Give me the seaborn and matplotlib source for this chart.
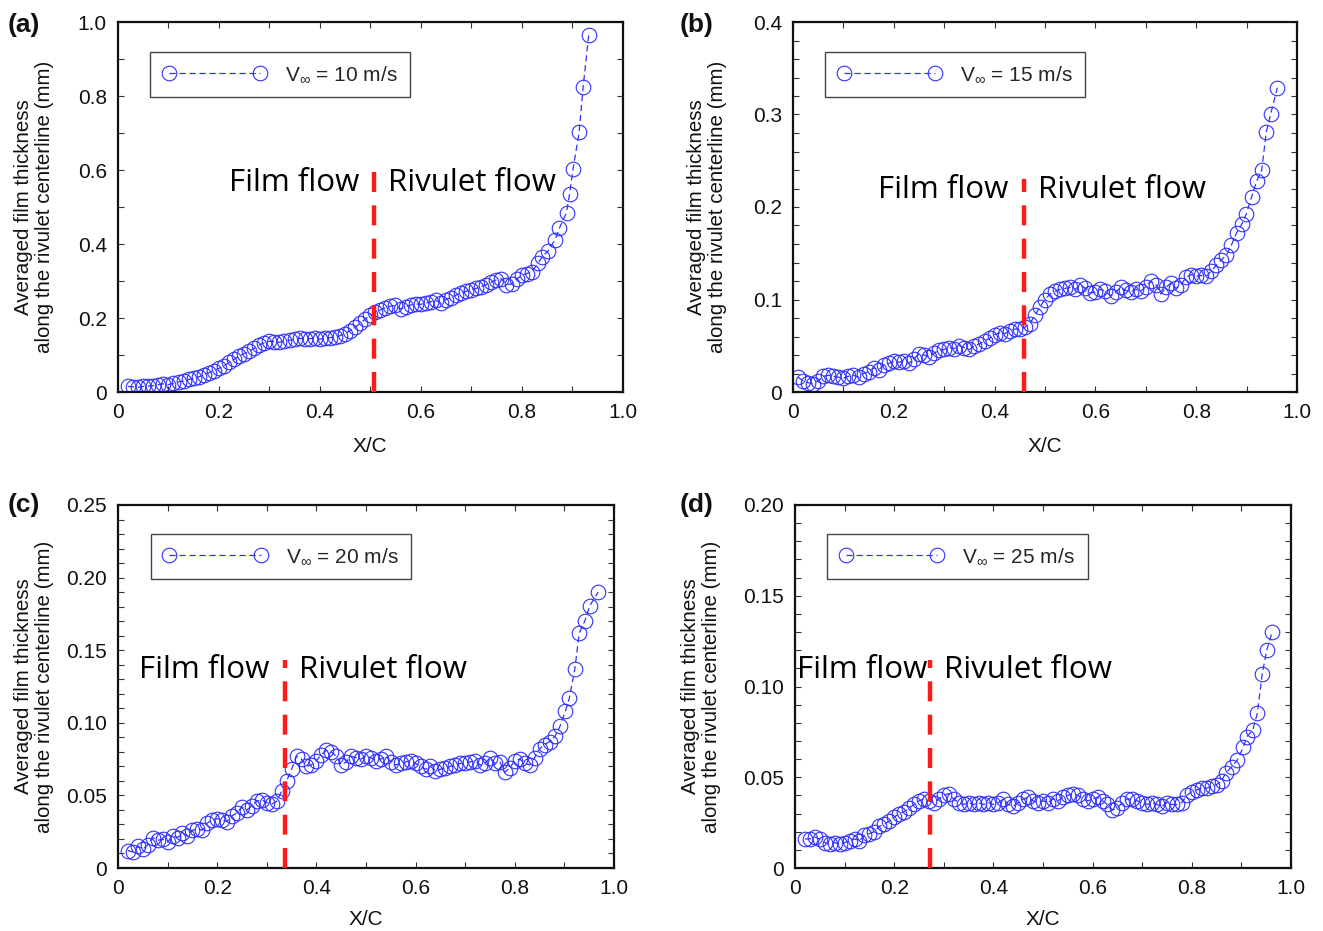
import numpy as np
import pandas as pd
import matplotlib
matplotlib.use("Agg")
import matplotlib.pyplot as plt
from matplotlib.ticker import MultipleLocator, FixedLocator
import seaborn as sns

# ---------------- data ----------------
x_a = [0.02, 0.03, 0.04, 0.05, 0.06, 0.07, 0.08, 0.09, 0.10, 0.11, 0.12, 0.13, 0.14, 0.15,
       0.16, 0.17, 0.18, 0.19, 0.20, 0.21, 0.22, 0.23, 0.24, 0.25, 0.26, 0.27, 0.28, 0.29,
       0.30, 0.31, 0.32, 0.33, 0.34, 0.35, 0.36, 0.37, 0.38, 0.39, 0.40, 0.41, 0.42, 0.43,
       0.44, 0.45, 0.46, 0.47, 0.48, 0.49, 0.50, 0.51, 0.52, 0.53, 0.54, 0.55, 0.56, 0.57,
       0.58, 0.59, 0.60, 0.61, 0.62, 0.63, 0.64, 0.65, 0.66, 0.67, 0.68, 0.69, 0.70, 0.71,
       0.72, 0.73, 0.74, 0.75, 0.76, 0.77, 0.78, 0.79, 0.80, 0.81, 0.82,
       0.833, 0.841, 0.853, 0.866, 0.875, 0.889, 0.895, 0.902, 0.914, 0.922, 0.933]
y_a = [0.015, 0.014, 0.013, 0.015, 0.016, 0.017, 0.020, 0.022, 0.020, 0.024, 0.027, 0.030, 0.034, 0.037,
       0.041, 0.046, 0.052, 0.058, 0.064, 0.070, 0.080, 0.088, 0.097, 0.104, 0.110, 0.118, 0.127, 0.133,
       0.137, 0.136, 0.134, 0.138, 0.140, 0.142, 0.145, 0.143, 0.144, 0.146, 0.143, 0.145, 0.147, 0.148,
       0.152, 0.158, 0.166, 0.175, 0.186, 0.197, 0.207, 0.215, 0.222, 0.228, 0.232, 0.234, 0.225, 0.230,
       0.235, 0.238, 0.237, 0.240, 0.244, 0.248, 0.240, 0.250, 0.255, 0.262, 0.268, 0.272, 0.277, 0.280,
       0.285, 0.290, 0.297, 0.303, 0.306, 0.290, 0.292, 0.305, 0.315, 0.320, 0.325,
       0.348, 0.366, 0.382, 0.411, 0.443, 0.485, 0.535, 0.603, 0.702, 0.825, 0.964]

x_b = [0.01, 0.02, 0.03, 0.04, 0.05, 0.06, 0.07, 0.08, 0.09, 0.10, 0.11, 0.12, 0.13, 0.14,
       0.15, 0.16, 0.17, 0.18, 0.19, 0.20, 0.21, 0.22, 0.23, 0.24, 0.25, 0.26, 0.27, 0.28,
       0.29, 0.30, 0.31, 0.32, 0.33, 0.34, 0.35, 0.36, 0.37, 0.38, 0.39, 0.40, 0.41, 0.42,
       0.43, 0.44, 0.45, 0.46, 0.47, 0.48, 0.49, 0.50, 0.51, 0.52, 0.53, 0.54, 0.55, 0.56,
       0.57, 0.58, 0.59, 0.60, 0.61, 0.62, 0.63, 0.64, 0.65, 0.66, 0.67, 0.68, 0.69, 0.70,
       0.71, 0.72, 0.73, 0.74, 0.75, 0.76, 0.77, 0.78, 0.79, 0.80, 0.81, 0.82, 0.83, 0.84, 0.85,
       0.860, 0.870, 0.880, 0.891, 0.899, 0.910, 0.920, 0.930, 0.939, 0.948, 0.961]
y_b = [0.016, 0.012, 0.010, 0.009, 0.012, 0.017, 0.018, 0.017, 0.016, 0.015, 0.017, 0.018, 0.016, 0.020,
       0.022, 0.026, 0.024, 0.029, 0.031, 0.033, 0.032, 0.034, 0.031, 0.036, 0.041, 0.040, 0.038, 0.042,
       0.045, 0.046, 0.048, 0.047, 0.050, 0.048, 0.046, 0.050, 0.052, 0.055, 0.058, 0.062, 0.064, 0.063,
       0.066, 0.068, 0.068, 0.070, 0.074, 0.083, 0.092, 0.100, 0.106, 0.109, 0.111, 0.112, 0.113, 0.111,
       0.116, 0.112, 0.107, 0.108, 0.111, 0.109, 0.104, 0.108, 0.113, 0.110, 0.108, 0.111, 0.109, 0.114,
       0.120, 0.116, 0.106, 0.113, 0.118, 0.112, 0.116, 0.124, 0.127, 0.125, 0.126, 0.125, 0.131, 0.137, 0.143,
       0.148, 0.159, 0.172, 0.182, 0.192, 0.211, 0.228, 0.240, 0.281, 0.301, 0.329]

x_c = [0.02, 0.03, 0.04, 0.05, 0.06, 0.07, 0.08, 0.09, 0.10, 0.11, 0.12, 0.13, 0.14, 0.15,
       0.16, 0.17, 0.18, 0.19, 0.20, 0.21, 0.22, 0.23, 0.24, 0.25, 0.26, 0.27, 0.28, 0.29,
       0.30, 0.31, 0.32, 0.33, 0.34, 0.35, 0.36, 0.37, 0.38, 0.39, 0.40, 0.41, 0.42, 0.43,
       0.44, 0.45, 0.46, 0.47, 0.48, 0.49, 0.50, 0.51, 0.52, 0.53, 0.54, 0.55, 0.56, 0.57,
       0.58, 0.59, 0.60, 0.61, 0.62, 0.63, 0.64, 0.65, 0.66, 0.67, 0.68, 0.69, 0.70, 0.71,
       0.72, 0.73, 0.74, 0.75, 0.76, 0.77, 0.78, 0.79, 0.80, 0.81, 0.82, 0.83, 0.84, 0.85, 0.86,
       0.870, 0.881, 0.891, 0.902, 0.910, 0.921, 0.930, 0.941, 0.951, 0.968]
y_c = [0.012, 0.011, 0.015, 0.013, 0.016, 0.021, 0.019, 0.020, 0.018, 0.022, 0.021, 0.024, 0.022, 0.026,
       0.027, 0.026, 0.031, 0.033, 0.034, 0.033, 0.032, 0.036, 0.038, 0.042, 0.040, 0.043, 0.046, 0.047,
       0.045, 0.044, 0.046, 0.053, 0.060, 0.068, 0.077, 0.075, 0.070, 0.071, 0.074, 0.078, 0.081, 0.080,
       0.077, 0.071, 0.073, 0.077, 0.076, 0.075, 0.077, 0.076, 0.074, 0.075, 0.077, 0.073, 0.071, 0.072,
       0.073, 0.074, 0.072, 0.070, 0.068, 0.070, 0.067, 0.068, 0.069, 0.070, 0.071, 0.072, 0.072, 0.073,
       0.074, 0.071, 0.072, 0.076, 0.072, 0.073, 0.066, 0.069, 0.074, 0.075, 0.072, 0.071, 0.076, 0.082, 0.085,
       0.087, 0.0906, 0.0975, 0.108, 0.117, 0.137, 0.162, 0.170, 0.1805, 0.190]

x_d = [0.02, 0.03, 0.04, 0.05, 0.06, 0.07, 0.08, 0.09, 0.10, 0.11, 0.12, 0.13, 0.14, 0.15,
       0.16, 0.17, 0.18, 0.19, 0.20, 0.21, 0.22, 0.23, 0.24, 0.25, 0.26, 0.27, 0.28, 0.29,
       0.30, 0.31, 0.32, 0.33, 0.34, 0.35, 0.36, 0.37, 0.38, 0.39, 0.40, 0.41, 0.42, 0.43,
       0.44, 0.45, 0.46, 0.47, 0.48, 0.49, 0.50, 0.51, 0.52, 0.53, 0.54, 0.55, 0.56, 0.57,
       0.58, 0.59, 0.60, 0.61, 0.62, 0.63, 0.64, 0.65, 0.66, 0.67, 0.68, 0.69, 0.70, 0.71,
       0.72, 0.73, 0.74, 0.75, 0.76, 0.77, 0.78, 0.79, 0.80, 0.81, 0.82, 0.83, 0.84, 0.85, 0.86,
       0.868, 0.881, 0.892, 0.904, 0.911, 0.923, 0.932, 0.942, 0.951, 0.962]
y_d = [0.016, 0.016, 0.017, 0.016, 0.014, 0.013, 0.014, 0.013, 0.014, 0.015, 0.016, 0.015, 0.018, 0.019,
       0.020, 0.023, 0.024, 0.026, 0.028, 0.030, 0.031, 0.033, 0.035, 0.037, 0.038, 0.037, 0.036, 0.038,
       0.040, 0.041, 0.038, 0.036, 0.035, 0.036, 0.035, 0.036, 0.035, 0.036, 0.035, 0.036, 0.038, 0.035,
       0.034, 0.036, 0.038, 0.039, 0.037, 0.036, 0.037, 0.036, 0.038, 0.037, 0.039, 0.040, 0.041, 0.040,
       0.038, 0.037, 0.038, 0.039, 0.037, 0.035, 0.032, 0.033, 0.036, 0.038, 0.038, 0.037, 0.036, 0.035,
       0.036, 0.035, 0.034, 0.036, 0.035, 0.035, 0.036, 0.040, 0.042, 0.043, 0.044, 0.044, 0.045, 0.046, 0.048,
       0.0522, 0.0559, 0.0595, 0.0668, 0.0723, 0.076, 0.0852, 0.1068, 0.120, 0.130]

panel_labels = ["(a)", "(b)", "(c)", "(d)"]
speeds = ["10", "15", "20", "25"]
y_max = [1.0, 0.4, 0.25, 0.20]
y_major = [0.2, 0.1, 0.05, 0.05]
y_minor = [0.1, 0.02, 0.01, 0.01]
y_ticklabels = [["0", "0.2", "0.4", "0.6", "0.8", "1.0"],
                ["0", "0.1", "0.2", "0.3", "0.4"],
                ["0", "0.05", "0.10", "0.15", "0.20", "0.25"],
                ["0", "0.05", "0.10", "0.15", "0.20"]]
x_ticklabels = ["0", "0.2", "0.4", "0.6", "0.8", "1.0"]
transition_x = [0.508, 0.458, 0.336, 0.272]
transition_top = [0.598, 0.230, 0.143, 0.1145]
text_y = [0.566, 0.218, 0.1365, 0.109]

xs = [x_a, x_b, x_c, x_d]
ys = [y_a, y_b, y_c, y_d]

# ---------------- style ----------------
sns.set_style("ticks")
plt.rcParams["font.family"] = ["Liberation Sans", "DejaVu Sans"]
plt.rcParams["mathtext.fontset"] = "custom"
plt.rcParams["mathtext.rm"] = "Liberation Sans"
plt.rcParams["mathtext.it"] = "Liberation Sans"

fig = plt.figure(figsize=(13.23, 9.31), dpi=100)
fig.patch.set_facecolor("white")

W, H = 1323.0, 931.0
boxes = [(118, 622.5, 22, 392), (793, 1297, 22, 392), (118, 614, 505, 868), (795, 1291, 505, 868)]
ylabel_x = [-0.127, -0.131, -0.129, -0.149]
xlabel_y = [-0.122, -0.122, -0.116, -0.116]
legend_anchor = [(0.063, 0.919), (0.063, 0.919), (0.066, 0.92), (0.0645, 0.92)]
panel_pos = [(8, 25), (680, 25), (8, 505), (680, 505)]

blue = "#3030ff"
red = "#ff1a1a"

for i in range(4):
    l, r, t, b = boxes[i]
    ax = fig.add_axes([l / W, 1 - b / H, (r - l) / W, (b - t) / H])
    df = pd.DataFrame({"x": xs[i], "y": ys[i]})
    sns.lineplot(data=df, x="x", y="y", ax=ax, estimator=None, sort=False,
                 color=blue, linestyle=(0, (5, 3)), linewidth=0.9,
                 marker="o", markersize=10.5, markerfacecolor="none",
                 markeredgecolor=blue, markeredgewidth=0.8,
                 label=r"V$_{\infty}$ = " + speeds[i] + " m/s")

    ax.set_xlim(0, 1.0)
    ax.set_ylim(0, y_max[i])
    ax.xaxis.set_major_locator(FixedLocator([0, 0.2, 0.4, 0.6, 0.8, 1.0]))
    ax.set_xticklabels(x_ticklabels)
    ax.xaxis.set_minor_locator(MultipleLocator(0.1))
    n = len(y_ticklabels[i])
    ax.yaxis.set_major_locator(FixedLocator([k * y_major[i] for k in range(n)]))
    ax.set_yticklabels(y_ticklabels[i])
    ax.yaxis.set_minor_locator(MultipleLocator(y_minor[i]))
    ax.tick_params(which="both", direction="in", top=True, right=True,
                   length=4, width=0.8, color="#333333")
    ax.tick_params(which="major", labelsize=15, pad=8, labelcolor="#111111")
    for s in ax.spines.values():
        s.set_linewidth(1.6)
        s.set_color("#111111")

    ax.set_xlabel("X/C", fontsize=15, color="#111111")
    ax.set_ylabel("Averaged film thickness\nalong the rivulet centerline (mm)",
                  fontsize=14.8, color="#111111", linespacing=1.12)
    ax.yaxis.set_label_coords(ylabel_x[i], 0.5)
    ax.xaxis.set_label_coords(0.5, xlabel_y[i])

    # transition line
    ax.plot([transition_x[i], transition_x[i]], [0, transition_top[i]],
            color=red, linewidth=3.2, linestyle=(0, (4.5, 3.0)), zorder=4)
    ax.annotate("Film flow", xy=(transition_x[i], text_y[i]), xytext=(-11 if i < 3 else -2, 0),
                textcoords="offset points", ha="right", va="center",
                fontsize=22.5, family="Open Sans", color="black")
    ax.annotate("Rivulet flow", xy=(transition_x[i], text_y[i]), xytext=(10, 0),
                textcoords="offset points", ha="left", va="center",
                fontsize=22.5, family="Open Sans", color="black")

    leg = ax.legend(loc="upper left", bbox_to_anchor=legend_anchor[i], borderaxespad=0,
                    fontsize=15, numpoints=2, handlelength=5.0, frameon=True,
                    fancybox=False, borderpad=0.6, handletextpad=0.9)
    leg.get_frame().set_edgecolor("#444444")
    leg.get_frame().set_linewidth(1.0)
    leg.get_frame().set_alpha(1.0)

    px, py = panel_pos[i]
    fig.text(px / W, 1 - py / H, panel_labels[i], fontsize=19, fontweight="bold",
             ha="left", va="center", color="#111111")

fig.savefig("out.png", dpi=100, facecolor="white")
